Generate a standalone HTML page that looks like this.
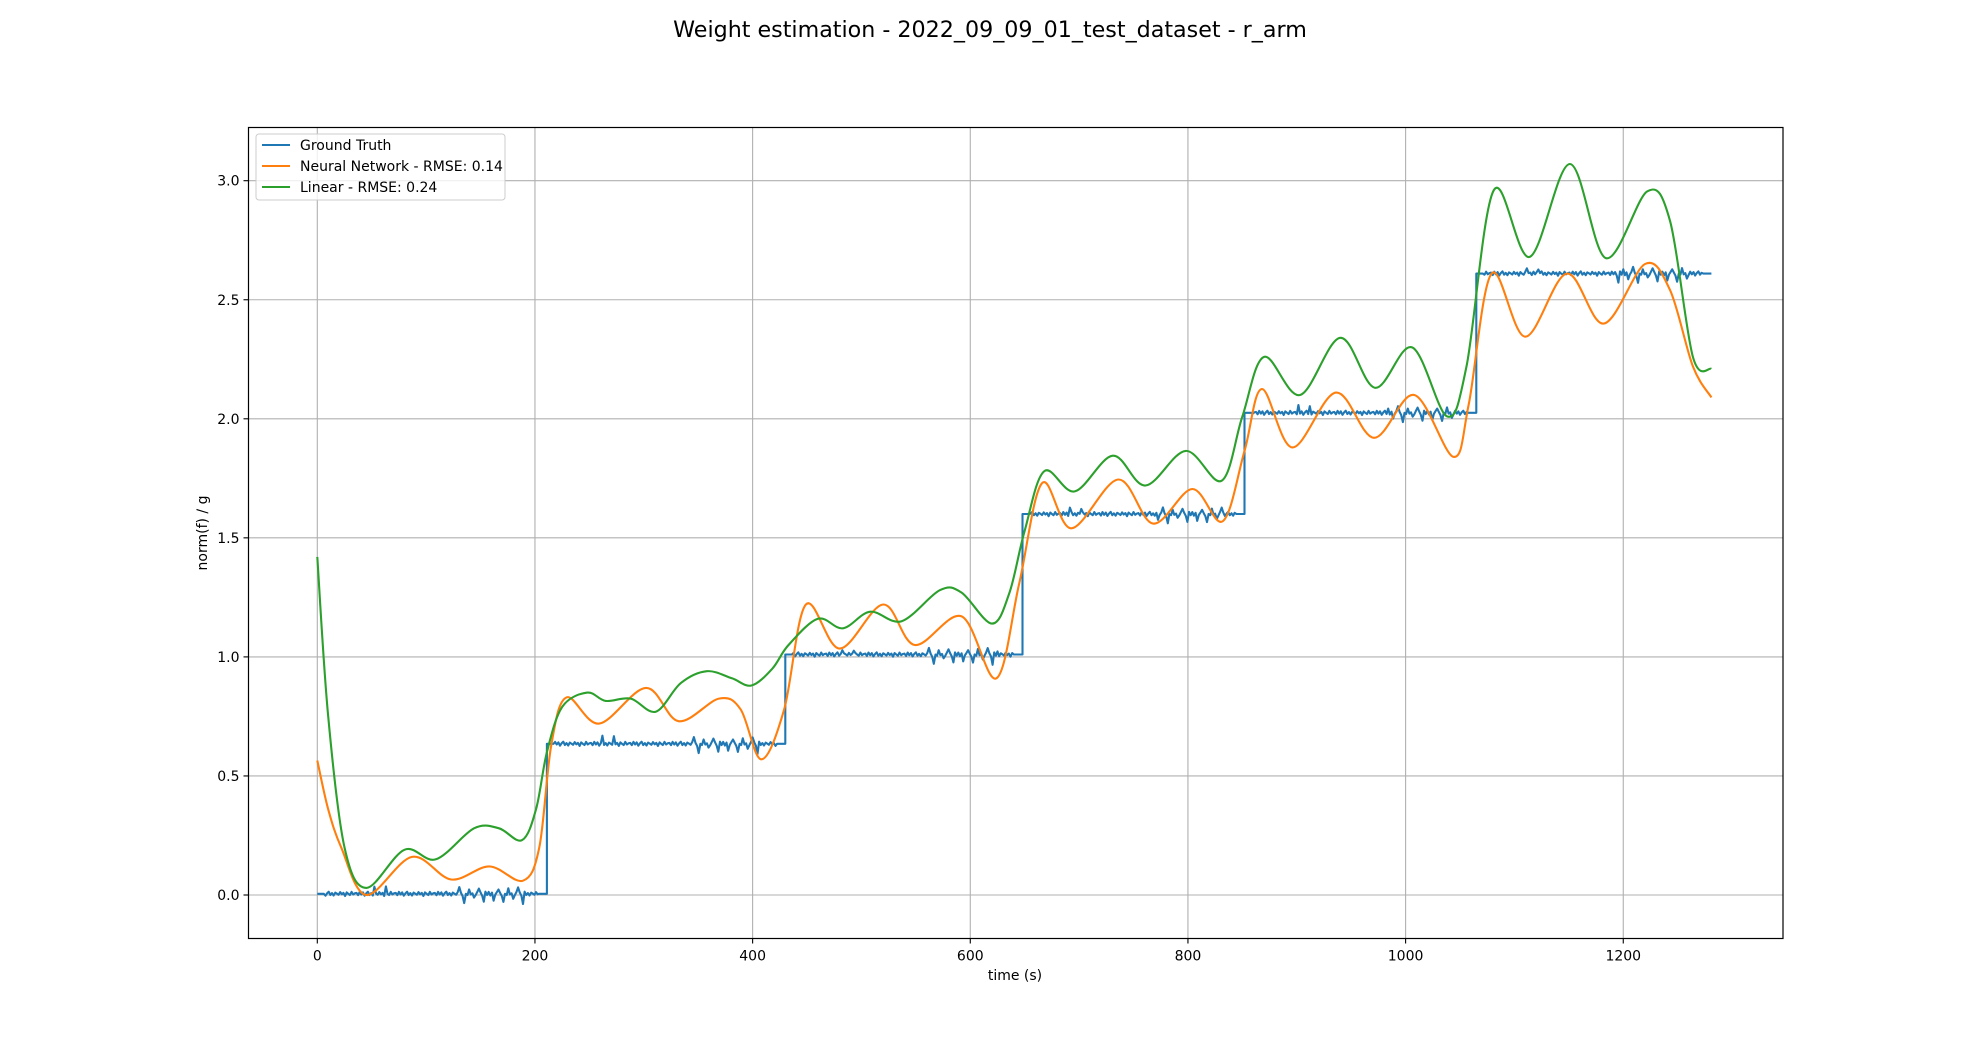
<!DOCTYPE html>
<html><head><meta charset="utf-8"><style>
html,body{margin:0;padding:0;background:#fff;}
svg{display:block;font-family:"DejaVu Sans","Liberation Sans",sans-serif;}
</style></head><body>
<svg id="chart" width="1980" height="1055" viewBox="0 0 1980 1055" xmlns="http://www.w3.org/2000/svg">
<rect width="1980" height="1055" fill="#fff"/>
<text x="990" y="37" text-anchor="middle" font-size="22.2">Weight estimation - 2022_09_09_01_test_dataset - r_arm</text>
<g id="grid"></g>
<g id="series"></g>
<rect x="248.5" y="127.5" width="1534.5" height="811" fill="none" stroke="#000" stroke-width="1.2"/>
<g id="ticks"></g>
<text x="1015" y="980" text-anchor="middle" font-size="14">time (s)</text>
<text transform="translate(207,533) rotate(-90)" text-anchor="middle" font-size="14">norm(f) / g</text>
<g>
<rect x="256" y="134" width="249" height="66" rx="3" fill="#fff" fill-opacity="0.8" stroke="#ccc"/>
<g><line x1="262" y1="145" x2="290" y2="145" stroke="#1f77b4" stroke-width="2.1"/><text x="300" y="150" font-size="14">Ground Truth</text></g>
<g><line x1="262" y1="166" x2="290" y2="166" stroke="#ff7f0e" stroke-width="2.1"/><text x="300" y="171" font-size="14">Neural Network - RMSE: 0.14</text></g>
<g><line x1="262" y1="187" x2="290" y2="187" stroke="#2ca02c" stroke-width="2.1"/><text x="300" y="192" font-size="14">Linear - RMSE: 0.24</text></g>
</g>
</svg>
<script>
const xTicks=[0,200,400,600,800,1000,1200];
const yTicks=[0.0,0.5,1.0,1.5,2.0,2.5,3.0];
const gtStepTimes=[0,211,430,648,852,1065,1281];
const gtLevels=[0.005,0.635,1.01,1.60,2.025,2.61];
const gtNoise=[0.004,-0.006,0.008,-0.003,0.006,-0.008,0.002,0.009,-0.005,0.003,-0.007,0.005,0.001,-0.004,0.007,-0.002,0.004,-0.009,0.006,0.0,-0.005,0.008,-0.003,0.002];
const gtSpikes=[-0.03,0.02,-0.04,0.015,-0.025,0.03,-0.045,0.01,-0.02,0.025,-0.035,0.005];
const nnT=[0,10,22,45,87,123,158,189,204,215,229,259,302,332,369,389,408,429,449,480,520,549,592,624,645,666,693,736,768,804,832,852,868,896,936,971,1008,1044,1058,1079,1110,1148,1182,1220,1243,1264,1281];
const nnV=[0.565,0.36,0.2,0.0,0.16,0.065,0.12,0.06,0.2,0.63,0.83,0.72,0.87,0.73,0.825,0.78,0.57,0.78,1.22,1.035,1.22,1.05,1.17,0.91,1.31,1.73,1.54,1.745,1.56,1.705,1.57,1.865,2.125,1.88,2.11,1.92,2.10,1.84,2.06,2.61,2.345,2.61,2.40,2.65,2.54,2.22,2.09];
const linT=[0,10,25,45,80,109,144,167,188,201,211,225,248,265,288,311,334,358,381,399,418,433,460,483,508,537,572,592,620,636,650,668,696,731,761,798,831,850,870,903,940,972,1006,1038,1056,1081,1114,1151,1184,1222,1243,1264,1281];
const linV=[1.42,0.75,0.2,0.03,0.19,0.15,0.28,0.28,0.23,0.36,0.6,0.79,0.85,0.815,0.825,0.77,0.89,0.94,0.91,0.88,0.95,1.05,1.16,1.12,1.19,1.15,1.28,1.27,1.14,1.27,1.53,1.78,1.695,1.845,1.72,1.865,1.74,2.01,2.26,2.10,2.34,2.13,2.30,2.01,2.22,2.96,2.68,3.07,2.675,2.955,2.83,2.26,2.21];

const NS='http://www.w3.org/2000/svg';
const X0=317.3,XS=1.0883,Y0=895,YS=238.1;
const L=248.5,R=1783,T=127.5,B=938.5;
function sx(t){return X0+t*XS;}
function sy(v){return Y0-v*YS;}
function mk(tag,attrs,parent){const e=document.createElementNS(NS,tag);for(const k in attrs)e.setAttribute(k,attrs[k]);parent.appendChild(e);return e;}
const grid=document.getElementById('grid'),ticks=document.getElementById('ticks'),series=document.getElementById('series');
xTicks.forEach(t=>{const x=sx(t);
 const g=mk('line',{x1:x,x2:x,y1:T,y2:B,stroke:'#b0b0b0','stroke-width':1.1},grid);
 
 
 mk('line',{x1:x,x2:x,y1:B,y2:B+5,stroke:'#000','stroke-width':1.1},ticks);
 const tx=mk('text',{x:x,y:B+22,'text-anchor':'middle','font-size':14},ticks);tx.textContent=String(t);
 
 
});
yTicks.forEach(v=>{const y=sy(v);
 const g=mk('line',{x1:L,x2:R,y1:y,y2:y,stroke:'#b0b0b0','stroke-width':1.1},grid);
 
 
 mk('line',{x1:L-5,x2:L,y1:y,y2:y,stroke:'#000','stroke-width':1.1},ticks);
 const tx=mk('text',{x:L-9,y:y+5,'text-anchor':'end','font-size':14},ticks);tx.textContent=v.toFixed(1);
 
 
});
let d='',k=0;
for(let s=0;s<gtLevels.length;s++){
 const a=gtStepTimes[s],b=gtStepTimes[s+1];
 for(let t=a;t<b;t+=1.5){
  const f=(t-a)/(b-a);let v=gtLevels[s];
  if(t>a+6&&t<b-8){v+=gtNoise[k%gtNoise.length];if(f>0.6&&f<0.9&&k%3===0)v+=gtSpikes[(k/3|0)%gtSpikes.length];if(f>0.2&&f<0.3&&k%7===0)v+=0.025;}
  d+=(d?'L':'M')+sx(t).toFixed(1)+','+sy(v).toFixed(1);k++;
 }
 d+='L'+sx(b).toFixed(1)+','+sy(gtLevels[s]).toFixed(1);
 if(s<gtLevels.length-1)d+='L'+sx(b).toFixed(1)+','+sy(gtLevels[s+1]).toFixed(1);
}
const gt=mk('path',{d:d,fill:'none',stroke:'#1f77b4','stroke-width':2.1,'stroke-linejoin':'round'},series);


function smooth(T_,V_){let p='M'+sx(T_[0])+','+sy(V_[0]);
 for(let i=0;i<T_.length-1;i++){
  const p0=[sx(T_[Math.max(i-1,0)]),sy(V_[Math.max(i-1,0)])],p1=[sx(T_[i]),sy(V_[i])],p2=[sx(T_[i+1]),sy(V_[i+1])],p3=[sx(T_[Math.min(i+2,T_.length-1)]),sy(V_[Math.min(i+2,T_.length-1)])];
  const c1=[p1[0]+(p2[0]-p0[0])/6,p1[1]+(p2[1]-p0[1])/6],c2=[p2[0]-(p3[0]-p1[0])/6,p2[1]-(p3[1]-p1[1])/6];
  p+='C'+c1.map(n=>n.toFixed(1))+' '+c2.map(n=>n.toFixed(1))+' '+p2.map(n=>n.toFixed(1));
 }return p;}
const nn=mk('path',{d:smooth(nnT,nnV),fill:'none',stroke:'#ff7f0e','stroke-width':2.1},series);


const lin=mk('path',{d:smooth(linT,linV),fill:'none',stroke:'#2ca02c','stroke-width':2.1},series);


</script>
</body></html>
